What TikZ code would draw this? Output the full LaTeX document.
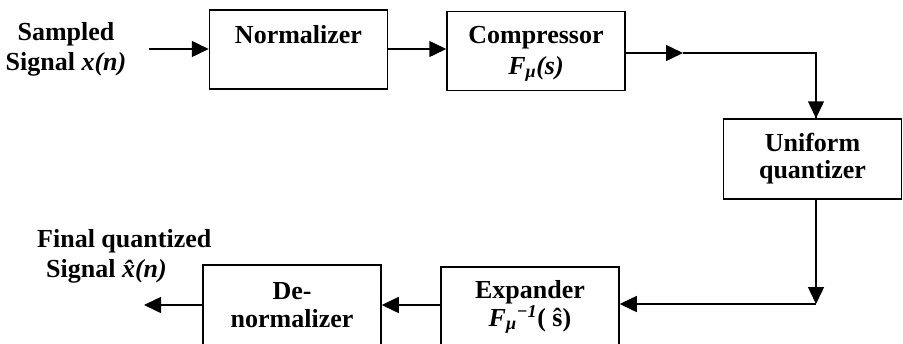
\documentclass[tikz,border=0pt]{standalone}
\usepackage{fontspec}
\setmainfont{Liberation Serif}
\usetikzlibrary{arrows.meta}
\begin{document}
\begin{tikzpicture}[x=1pt,y=-1pt,
  txt/.style={font=\fontsize{26}{30}\selectfont\bfseries, inner sep=0pt},
  box/.style={draw, line width=1.5pt, align=center, inner sep=0pt,
    minimum width=178pt, minimum height=79pt,
    font=\fontsize{26}{28}\selectfont\bfseries},
  ln/.style={line width=1.5pt},
  arr/.style={line width=1.5pt, -{Triangle[length=17pt,width=16pt]}}]
\useasboundingbox (0,0) rectangle (903,343);
\clip (0,0) rectangle (903,343);

% blocks
\node[box] (norm)  at (298.5,49.5) {Normalizer\\[-6pt]\strut};
\node[box] (comp)  at (536,51) {\rule{0pt}{23pt}Compressor\\[3pt]\textit{F}\textsubscript{\textit{μ}}\textit{(s)}};
\node[box, minimum height=80pt] (quant) at (812.5,159) {Uniform\\[-1pt]quantizer};
\node[box, minimum height=80pt] (exp)   at (530,307) {Expander\\[0pt]\textit{F}\textsubscript{\textit{μ}}\textsuperscript{\textit{−1}}( ŝ)};
\node[box, minimum height=80pt] (den)   at (292,305) {De-\\normalizer};

% labels
\node[txt, align=center] (src) at (66,49.5) {Sampled\\Signal \textit{x(n)}};
\node[txt, align=left, anchor=north west] (dst) at (37,229) {Final quantized\\\hspace{9pt}Signal \textit{x̂(n)}};

% coordinates
\coordinate (in)  at (149,49);
\coordinate (c1)  at (683,53);
\coordinate (c2)  at (816,53);
\coordinate (c3)  at (816,304);
\coordinate (out) at (144,305);

% connectors
\draw[arr] (in) -- (in -| norm.west);
\draw[arr] (norm.east |- in) -- (in -| comp.west);
\draw[arr] (comp.east |- c1) -- (c1);
\draw[ln] (c1) -- (c2) -- (c2 |- quant.north);
\draw[arr] (c2 |- quant.north) ++(0,-17) -- (c2 |- quant.north);
\draw[arr] (c2 |- quant.south) -- (c3);
\draw[arr] (c3) -- (c3 -| exp.east);
\draw[arr] (exp.west |- out) -- (out -| den.east);
\draw[arr] (den.west |- out) -- (out);
\end{tikzpicture}
\end{document}
